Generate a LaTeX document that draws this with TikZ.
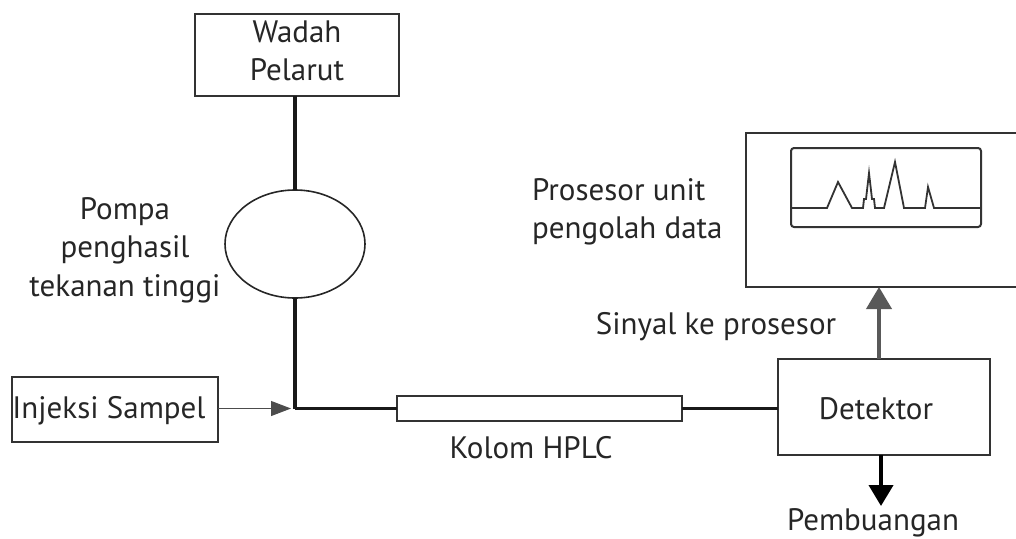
\documentclass[tikz,border=0pt]{standalone}
\usepackage{fontspec}
\setmainfont{PT Sans}
\usetikzlibrary{shapes.geometric,arrows.meta}

\begin{document}
\begin{tikzpicture}[x=1pt,y=-1pt]
\tikzstyle{box} = [draw=black!80, line width=2pt, rectangle, inner sep=0, outer sep=0, anchor=north west]
\tikzstyle{label} = [inner sep=0, align=center, text=black!85, font=\fontsize{31}{38.5}\selectfont]
\tikzstyle{pipe} = [line width=4pt, black!90]
\useasboundingbox (0,0) rectangle (1016,538);

% Kotak
\node[box, minimum width=204pt, minimum height=82pt] (wadah) at (195,14) {};
\node[box, minimum width=206pt, minimum height=65pt] (injeksi) at (12,377) {};
\node[box, minimum width=285pt, minimum height=25pt, line width=1.6pt] (kolom) at (397,396) {};
\node[box, minimum width=212pt, minimum height=96pt] (detektor) at (778,359) {};
\node[box, minimum width=284pt, minimum height=154pt] (prosesor) at (746,133) {};
\node[draw=black!85, line width=1.6pt, ellipse, minimum width=140pt, minimum height=108pt, inner sep=0, outer sep=0] (pompa) at (295,244) {};
\node[box, rounded corners=3pt, minimum width=190pt, minimum height=79pt] (layar) at (791,148) {};

% Titik pertemuan
\coordinate (junction) at (295,408.5);
\coordinate (buang) at (881,506);

% Pipa
\draw[pipe] (pompa.north |- wadah.south) -- (pompa.north);
\draw[pipe] (pompa.south) -- (junction);
\draw[line width=3pt, black!90] (junction) -- (kolom.west);
\draw[line width=3pt, black!90] (kolom.east) -- (kolom.east -| detektor.west);

% Panah
\draw[-{Triangle[length=20pt,width=15pt]}, line width=1pt, black!70, shorten >=4pt] (injeksi.east |- junction) -- (junction);
\draw[-{Triangle[length=22pt,width=25pt]}, line width=4pt, black!65] (detektor.north -| 879,0) -- (prosesor.south -| 879,0);
\draw[-{Triangle[length=21pt,width=24pt]}, line width=4pt, black] (detektor.south -| buang) -- (buang);

% Kromatogram
\draw[line width=1.8pt, black!80] (layar.west |- 0,208) -- (827,208) -- (838,182) -- (852,208) -- (863,208) -- (864,199)
  -- (866,199) -- (869,173) -- (872,199) -- (874,199) -- (875,208) -- (884,208) -- (895,162) -- (904,208) -- (925,208)
  -- (928,187) -- (934,208) -- (layar.east |- 0,208);

% Teks
\node[label] (twadah) at (297,51) {Wadah\\Pelarut};
\node[label] (tpompa) at (125,250) {Pompa\\penghasil\\tekanan tinggi};
\node[label, align=left, anchor=west] (tprosesor) at (532,212) {Prosesor unit\\pengolah data};
\node[label] (tinjeksi) at (109,411) {Injeksi Sampel};
\node[label] (tkolom) at (531,448) {Kolom HPLC};
\node[label] (tsinyal) at (716,327) {Sinyal ke prosesor};
\node[label] (tdetektor) at (876,409) {Detektor};
\node[label] (tbuang) at (873,523) {Pembuangan};
\end{tikzpicture}
\end{document}
